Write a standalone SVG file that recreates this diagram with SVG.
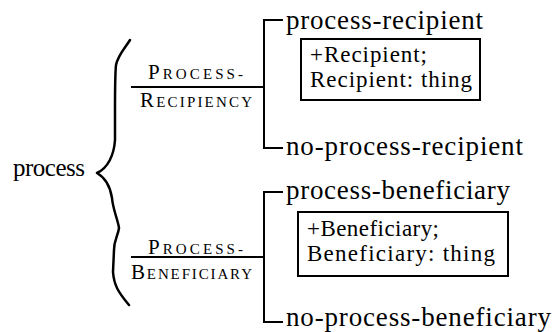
<svg xmlns="http://www.w3.org/2000/svg" width="553" height="332" viewBox="0 0 553 332">
<style>
text{font-family:'Liberation Serif','Times New Roman',serif;fill:#000}
.t{font-size:27px}
.p{font-size:25px}
.b{font-size:23px}
.big{font-size:21px}
.sm{font-size:15px}
.ln{stroke:#000;stroke-width:2;fill:none}
.br{stroke:#000;stroke-width:2.5;fill:none;stroke-linejoin:round;stroke-linecap:round}
</style>
<rect width="553" height="332" fill="#fff"/>
<g id="process"><text class="p" x="13" y="176" textLength="72">process</text></g>
<g id="connectors">
<path class="br" d="M130,40 C125,48 118,55 116,65 C115,75 115,90 115,110 L115,140 C114,155 108,168 97,173 C104,177 110,185 112,198 C113,210 118,220 119,228 C118,236 114,240 114,250 L113,272 C114,285 118,292 129,305"/>
<path class="ln" d="M131,87 H264 M283,20 H264 V148 H283"/>
<path class="ln" d="M131,257 H264 M283,192 H264 V322 H283"/>
</g>
<g id="process-recipiency">
<text x="148" y="79" textLength="95"><tspan class="big">P</tspan><tspan class="sm">ROCESS-</tspan></text>
<text x="140" y="107" textLength="112"><tspan class="big">R</tspan><tspan class="sm">ECIPIENCY</tspan></text>
</g>
<g id="process-beneficiary-rel">
<text x="148" y="254" textLength="95"><tspan class="big">P</tspan><tspan class="sm">ROCESS-</tspan></text>
<text x="131" y="279" textLength="121"><tspan class="big">B</tspan><tspan class="sm">ENEFICIARY</tspan></text>
</g>
<g id="process-recipient"><text class="t" x="286" y="29" textLength="197">process-recipient</text></g>
<g id="recipient-box">
<rect class="ln" x="301" y="39" width="179" height="61"/>
<text class="b" x="310" y="62" textLength="117">+Recipient;</text>
<text class="b" x="310" y="87" textLength="162">Recipient: thing</text>
</g>
<g id="no-process-recipient"><text class="t" x="286" y="155" textLength="237">no-process-recipient</text></g>
<g id="process-beneficiary"><text class="t" x="286" y="199" textLength="224">process-beneficiary</text></g>
<g id="beneficiary-box">
<rect class="ln" x="298" y="212" width="210" height="64"/>
<text class="b" x="307" y="236" textLength="132">+Beneficiary;</text>
<text class="b" x="307" y="261" textLength="188">Beneficiary: thing</text>
</g>
<g id="no-process-beneficiary"><text class="t" x="286" y="326" textLength="265">no-process-beneficiary</text></g>
</svg>
